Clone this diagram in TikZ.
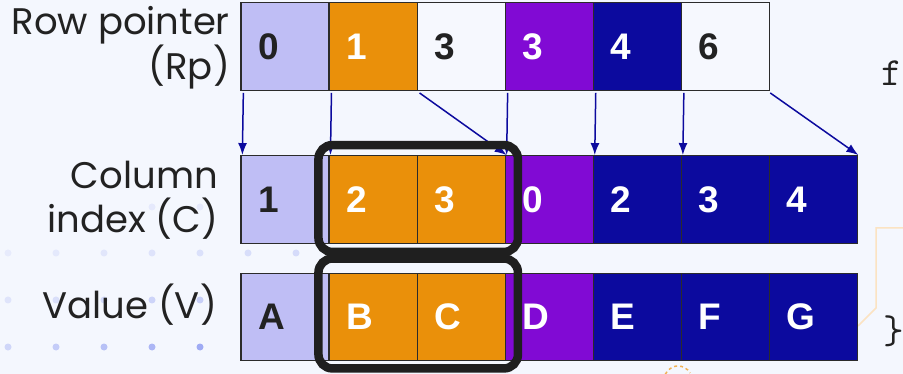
\documentclass[tikz,border=0pt]{standalone}
\usepackage{fontspec}
\setmainfont{Liberation Sans}
\newfontfamily\labelfont{Poppins}
\usetikzlibrary{arrows.meta}
\definecolor{paper}{HTML}{F4F7FE}
\definecolor{ink}{HTML}{222222}
\definecolor{lav}{HTML}{BFBEF5}
\definecolor{amber}{HTML}{EA900A}
\definecolor{pale}{HTML}{F6F8FE}
\definecolor{violet}{HTML}{810AD4}
\definecolor{navy}{HTML}{0C0A9E}
\definecolor{gridline}{HTML}{2B2B2B}
\definecolor{dotblue}{HTML}{7C8CF0}
\definecolor{peach}{HTML}{FBE3C2}

\tikzset{
  cell/.style={draw=gridline,line width=1.3pt,minimum width=88.1pt,
    minimum height=87.6pt,inner xsep=17pt,inner ysep=0pt,text width=54.1pt,
    align=left,font=\fontsize{37}{37}\selectfont\bfseries},
  lbl/.style={font=\labelfont\fontsize{37}{44}\selectfont,text=ink,
    align=right,inner sep=0pt},
  code/.style={font=\ttfamily\fontsize{40}{40}\selectfont,text=ink,inner sep=0pt},
  ptr/.style={draw=navy,line width=1.5pt,-{Latex[length=12pt,width=9pt]}},
  selbox/.style={draw=black!88,line width=8.5pt,rounded corners=14pt}
}

\begin{document}
\begin{tikzpicture}[x=1pt,y=-1pt]
  \fill[paper] (0,0) rectangle (903,374);
  \useasboundingbox (0,0) rectangle (903,374);

  % faint dot grid and decorations behind
  \foreach \x [count=\n] in {8,56,...,296}
    \fill[dotblue,opacity={0.08+0.025*\n}] (\x,253) circle (3.5);
  \foreach \x [count=\n] in {8,56,...,200}{
    \fill[dotblue,opacity={0.12+0.05*\n}] (\x,300) circle (3.5);
    \fill[dotblue,opacity={0.2+0.1*\n}] (\x,347) circle (3.5);
  }
  \foreach \x in {152,200}
    \fill[dotblue,opacity=.12] (\x,207) circle (3.5);
  \draw[peach,line width=1.5pt] (903,228) -- (876,228) -- (876,308) -- (858,326);
  \draw[amber!70,line width=1.5pt,dashed] (664,380) arc (180:330:14);

  \node[lbl,anchor=base east] (rplab) at (230,80) {Row pointer\\(Rp)};
  \node[lbl,anchor=base east] (cilab) at (218,233) {Column\\index (C)};
  \node[lbl,anchor=base east] (valab) at (217,319) {Value (V)};

  \foreach \v/\c/\t [count=\i from 0] in
    {0/lav/ink,1/amber/white,3/pale/ink,3/violet/white,4/navy/white,6/pale/ink}
    \node[cell,fill=\c,text=\t] (rp\i) at ({285.05+88.1*\i},46.5) {\v};
  \foreach \v/\c/\t [count=\i from 0] in
    {1/lav/ink,2/amber/white,3/amber/white,0/violet/white,2/navy/white,3/navy/white,4/navy/white}
    \node[cell,fill=\c,text=\t] (ci\i) at ({285.05+88.1*\i},199.5) {\v};
  \foreach \v/\c/\t [count=\i from 0] in
    {A/lav/ink,B/amber/white,C/amber/white,D/violet/white,E/navy/white,F/navy/white,G/navy/white}
    \node[cell,fill=\c,text=\t] (va\i) at ({285.05+88.1*\i},317) {\v};

  \foreach \i/\k in {0/0,1/1,2/3,3/3,4/4,5/5}
    \draw[ptr] ([xshift=3pt,yshift=-2pt]rp\i.south west) -- ([xshift=2pt]ci\k.north west);
  \draw[ptr] ([yshift=-2pt]rp5.south east) -- (ci6.north east);

  \draw[selbox] ([shift={(-10,-10)}]ci1.north west) rectangle ([shift={(12,8)}]ci2.south east);
  \draw[selbox] ([shift={(-10,-14)}]va1.north west) rectangle ([shift={(12,7)}]va2.south east);

  \node[code,anchor=base west] (fchar) at (881,86) {f};
  \node[code,anchor=base west] (brace) at (883,343) {\}};
\end{tikzpicture}
\end{document}
